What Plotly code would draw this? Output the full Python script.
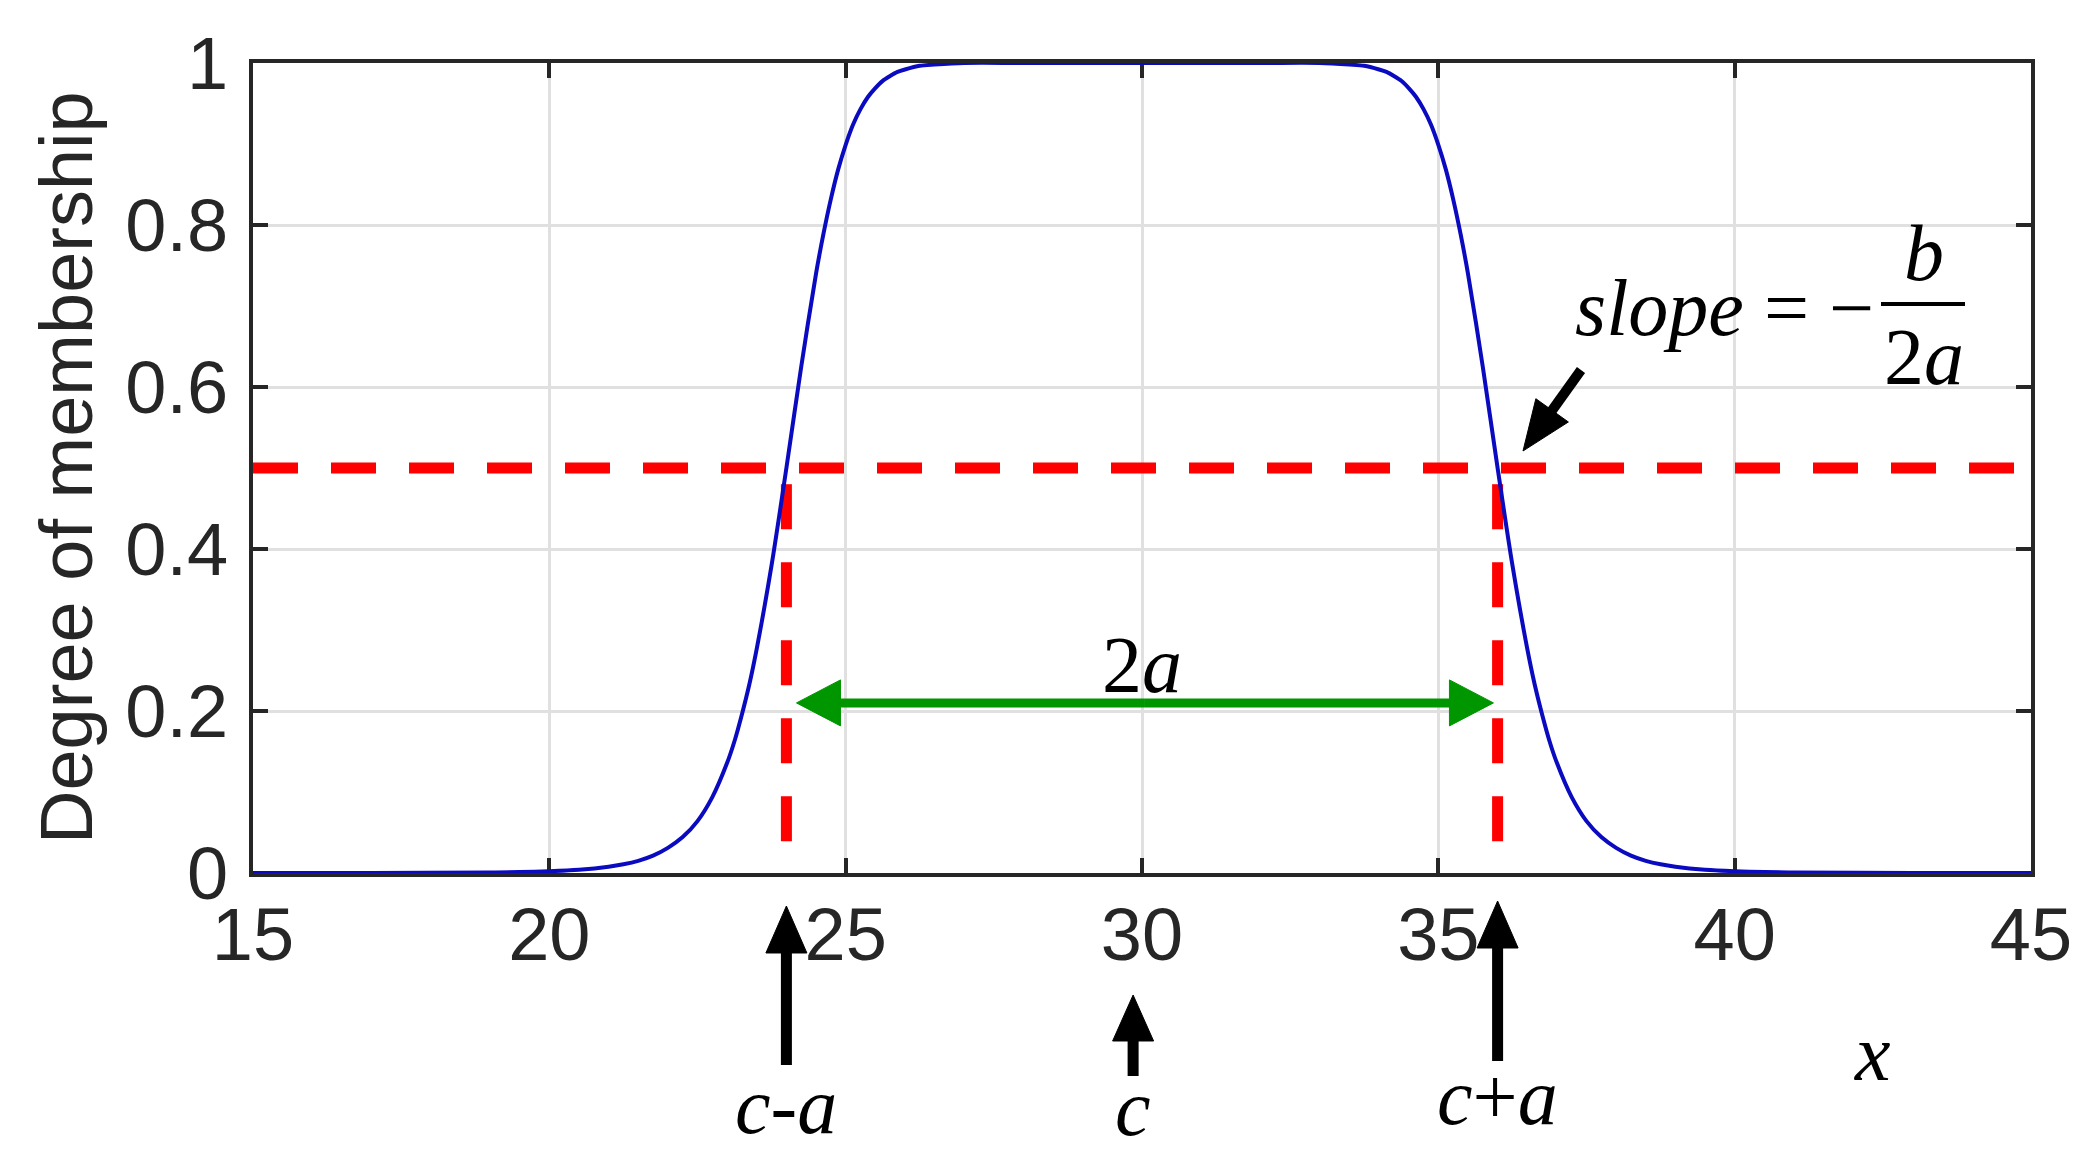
import math
import plotly.graph_objects as go

# generalized bell membership curve
x_curve = [15, 17, 19, 19.5, 20, 20.5, 21, 21.25, 21.5, 21.75, 22, 22.25, 22.5, 22.75,
           23, 23.125, 23.25, 23.375, 23.5, 23.75, 24, 24.25, 24.5, 24.625, 24.75,
           24.875, 25, 25.125, 25.25, 25.375, 25.5, 25.625, 25.75, 25.875, 26, 26.25,
           26.5, 27, 28, 30, 32, 33, 33.5, 33.75, 34, 34.125, 34.25, 34.375, 34.5,
           34.625, 34.75, 34.875, 35, 35.125, 35.25, 35.375, 35.5, 35.75, 36, 36.25,
           36.5, 36.625, 36.75, 36.875, 37, 37.25, 37.5, 37.75, 38, 38.25, 38.5,
           38.75, 39, 39.5, 40, 40.5, 41, 43, 45]
y_curve = [0, 0.0001, 0.0007, 0.0012, 0.0022, 0.004, 0.0077, 0.0107, 0.015, 0.0214,
           0.031, 0.0443, 0.064, 0.0936, 0.136, 0.163, 0.196, 0.233, 0.277, 0.38,
           0.5, 0.625, 0.74, 0.789, 0.832, 0.869, 0.899, 0.924, 0.943, 0.958, 0.969,
           0.978, 0.984, 0.989, 0.992, 0.9965, 0.998, 1.0, 1.0, 1.0, 1.0, 1.0, 0.998,
           0.9965, 0.992, 0.989, 0.984, 0.978, 0.969, 0.958, 0.943, 0.924, 0.899,
           0.869, 0.832, 0.789, 0.74, 0.625, 0.5, 0.38, 0.277, 0.233, 0.196, 0.163,
           0.136, 0.0936, 0.064, 0.0443, 0.031, 0.0214, 0.015, 0.0107, 0.0077, 0.004,
           0.0022, 0.0012, 0.0007, 0.0001, 0]

c_minus_a = 24
c_mid = 30
c_plus_a = 36
half_level = 0.5
span_level = 0.21
span_ends = [24.17, 35.93]

x_ticks = [15, 20, 25, 30, 35, 40, 45]
y_ticks = [0, 0.2, 0.4, 0.6, 0.8, 1]
y_ticktext = ["0", "0.2", "0.4", "0.6", "0.8", "1"]

# page geometry (pixels)
W, H = 2090, 1155
L, R, T, B = 245, 67, 55, 290
PW, PH = W - L - R, H - T - B
XR = [15, 45]


def xpix(x):
    return L + (x - XR[0]) / (XR[1] - XR[0]) * PW


def ypix(y):
    return T + (1 - y) * PH


def paper(xp, yp):
    return (xp - L) / PW, (H - B - yp) / PH


shapes = []


def arrow(x0, y0, x1, y1, color, width, head_len, head_w):
    # tail (x0, y0) -> tip (x1, y1), all in page pixels
    n = math.hypot(x1 - x0, y1 - y0)
    ux, uy = (x1 - x0) / n, (y1 - y0) / n
    bx, by = x1 - ux * head_len, y1 - uy * head_len
    qx, qy = -uy, ux
    a0 = paper(x0, y0)
    a1 = paper(bx + ux * 2, by + uy * 2)
    shapes.append(dict(type="line", xref="paper", yref="paper",
                       x0=a0[0], y0=a0[1], x1=a1[0], y1=a1[1],
                       line=dict(color=color, width=width)))
    p = [paper(x1, y1),
         paper(bx + qx * head_w / 2, by + qy * head_w / 2),
         paper(bx - qx * head_w / 2, by - qy * head_w / 2)]
    shapes.append(dict(type="path", xref="paper", yref="paper",
                       path="M%f,%f L%f,%f L%f,%f Z" % (p[0] + p[1] + p[2]),
                       fillcolor=color, line=dict(color=color, width=1)))


# green 2a span arrow
mid = (xpix(span_ends[0]) + xpix(span_ends[1])) / 2
arrow(mid, ypix(span_level), xpix(span_ends[0]), ypix(span_level), "#009600", 9, 44, 46)
arrow(mid, ypix(span_level), xpix(span_ends[1]), ypix(span_level), "#009600", 9, 44, 46)

# black arrows under the axis
arrow(xpix(c_minus_a), 1057, xpix(c_minus_a), 898, "black", 11, 47, 41)
arrow(xpix(c_mid - 0.15), 1068, xpix(c_mid - 0.15), 987, "black", 11, 46, 41)
arrow(xpix(c_plus_a), 1053, xpix(c_plus_a), 893, "black", 11, 47, 41)
# slope arrow
arrow(1573, 362, 1515, 443, "black", 10, 50, 40)

# fraction bar
f0 = paper(1873, 296)
f1 = paper(1957, 296)
shapes.append(dict(type="line", xref="paper", yref="paper",
                   x0=f0[0], y0=f0[1], x1=f1[0], y1=f1[1],
                   line=dict(color="black", width=4)))

fig = go.Figure()

red = dict(color="#ff0000", width=11, dash="45px,33px")
fig.add_trace(go.Scatter(x=[XR[0], XR[1]], y=[half_level, half_level], mode="lines",
                         line=red, hoverinfo="skip"))
for xv in [c_minus_a, c_plus_a]:
    fig.add_trace(go.Scatter(x=[xv, xv], y=[half_level - 0.02, 0], mode="lines",
                             line=red, hoverinfo="skip"))

fig.add_trace(go.Scatter(x=x_curve, y=y_curve, mode="lines",
                         line=dict(color="#0a0ac0", width=4, shape="spline", smoothing=0.8),
                         cliponaxis=False))

math_font = dict(family="Liberation Serif", size=80, color="black")
annotations = []


def label(xp, yp, text, font=math_font, angle=0):
    p = paper(xp, yp)
    annotations.append(dict(x=p[0], y=p[1], xref="paper", yref="paper", text=text,
                            showarrow=False, font=font, textangle=angle,
                            xanchor="center", yanchor="middle"))


label(xpix(c_minus_a), 1098, "<i>c</i>-<i>a</i>")
label(xpix(c_mid - 0.15), 1100, "<i>c</i>")
label(xpix(c_plus_a), 1089, "<i>c</i>+<i>a</i>")
label(1864, 1045, "<i>x</i>")
label(xpix(c_mid), 657, "2<i>a</i>")
label(1716, 300, "<i>slope</i> = −")
label(1916, 245, "<i>b</i>")
label(1916, 349, "2<i>a</i>")
label(58, 460, "Degree of membership",
      font=dict(family="Liberation Sans", size=74, color="#262626"), angle=-90)

axis_common = dict(showline=True, mirror="ticks", linecolor="#262626", linewidth=4,
                   ticks="inside", ticklen=15, tickwidth=4, tickcolor="#262626",
                   showgrid=True, gridcolor="#e0e0e0", gridwidth=3, zeroline=False,
                   layer="below traces",
                   tickfont=dict(family="Liberation Sans", size=74, color="#262626"))

fig.update_layout(
    width=W, height=H,
    margin=dict(l=L, r=R, t=T, b=B, autoexpand=False),
    paper_bgcolor="white", plot_bgcolor="white",
    showlegend=False,
    xaxis=dict(range=XR, tickvals=x_ticks, ticklabelstandoff=-6, **axis_common),
    yaxis=dict(range=[0, 1], tickvals=y_ticks, ticktext=y_ticktext, ticklabelstandoff=6,
               **axis_common),
    shapes=shapes,
    annotations=annotations,
)

fig.write_html("out.html")
